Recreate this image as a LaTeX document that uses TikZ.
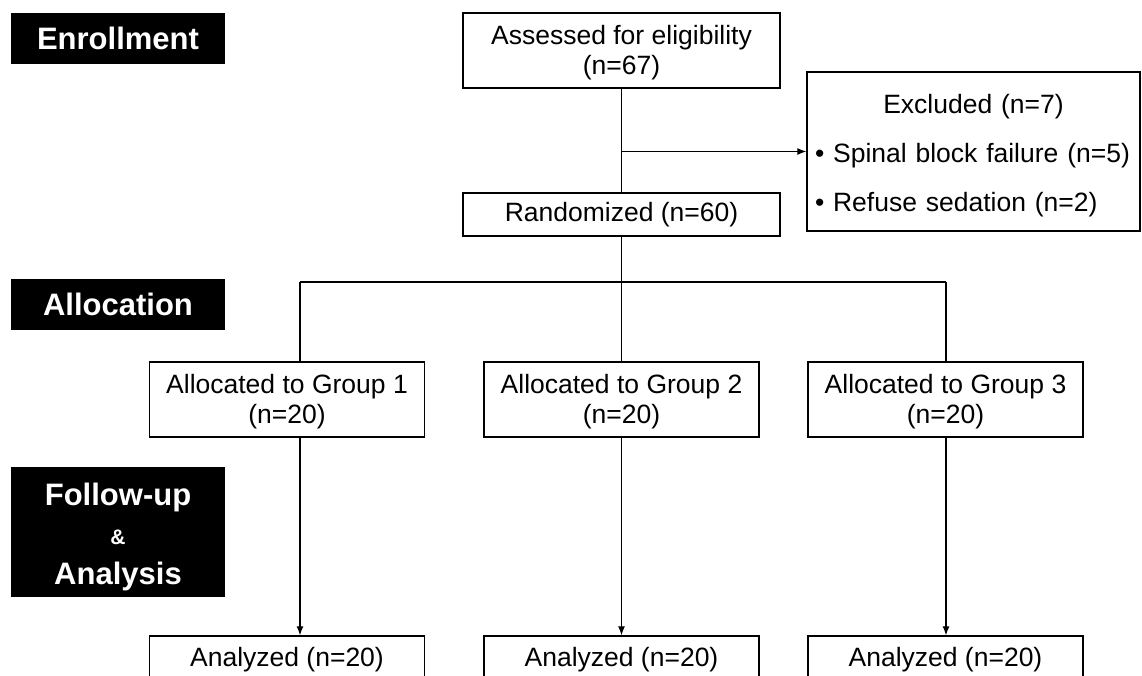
\documentclass[tikz,border=0pt]{standalone}
\usepackage{fontspec}
\setmainfont{Liberation Sans}
\usetikzlibrary{arrows.meta}

\begin{document}
\begin{tikzpicture}[x=1pt, y=-1pt,
    box/.style={draw, line width=1.4pt, align=center, inner sep=0pt,
        font=\fontsize{26.5}{30}\selectfont},
    phase/.style={fill=black, text=white, inner sep=0pt, minimum width=214pt,
        minimum height=51pt, align=center, font=\fontsize{31}{36}\selectfont\bfseries},
    link/.style={line width=1.2pt},
    arrow/.style={link, -{Latex[length=9pt, width=7pt]}}]

    \useasboundingbox (0,0) rectangle (1142,675);
    \clip (0,0) rectangle (1142,675);

    % Phase labels
    \node[phase] (enroll) at (118,38.5) {Enrollment};
    \node[phase] (alloc) at (118,304.5) {Allocation};
    \node[phase, minimum height=130pt] (follow) at (118,532)
        {\rule{0pt}{32pt}Follow-up\\[3pt]{\fontsize{21}{22}\selectfont \&}\\[4pt]Analysis};

    % Enrollment
    \node[box, minimum width=317pt, minimum height=75pt] (assess) at (621.5,50.5)
        {\rule{0pt}{24pt}Assessed for eligibility\\(n=67)};
    \node[box, minimum width=317pt, minimum height=43pt] (rand) at (621.5,214.5)
        {Randomized (n=60)};
    \node[box, text width=317pt, inner xsep=8pt, minimum height=159pt, align=left,
        font=\fontsize{26.5}{49}\selectfont] (excl) at (973.5,151.5)
        {\rule{0pt}{28pt}\makebox[317pt][c]{Excluded (n=7)}\\
         \textbullet\ Spinal block failure (n=5)\\
         \textbullet\ Refuse sedation (n=2)};

    % Allocation and analysis boxes
    \foreach \i/\x in {1/287, 2/621.5, 3/945.5} {
        \node[box, minimum width=275pt, minimum height=75pt] (g\i) at (\x,399.5)
            {\rule{0pt}{24pt}Allocated to Group \i\\(n=20)};
        \node[box, minimum width=275pt, minimum height=48pt] (a\i) at (\x,660)
            {Analyzed (n=20)};
    }

    % Connectors
    \coordinate (b1) at (300,282);
    \coordinate (b3) at (946,282);
    \draw[link] (assess) -- (rand);
    \draw[arrow] (assess.south |- excl.west) -- (excl.west);
    \draw[link] (rand) -- (rand |- b1);
    \draw[link] (b1) -- (b3);
    \draw[link] (b1) -- (b1 |- g1.north);
    \draw[link] (rand |- b1) -- (g2);
    \draw[link] (b3) -- (b3 |- g3.north);

    \draw[arrow] (b1 |- g1.south) -- (b1 |- a1.north);
    \draw[arrow] (g2) -- (a2);
    \draw[arrow] (b3 |- g3.south) -- (b3 |- a3.north);

\end{tikzpicture}
\end{document}
